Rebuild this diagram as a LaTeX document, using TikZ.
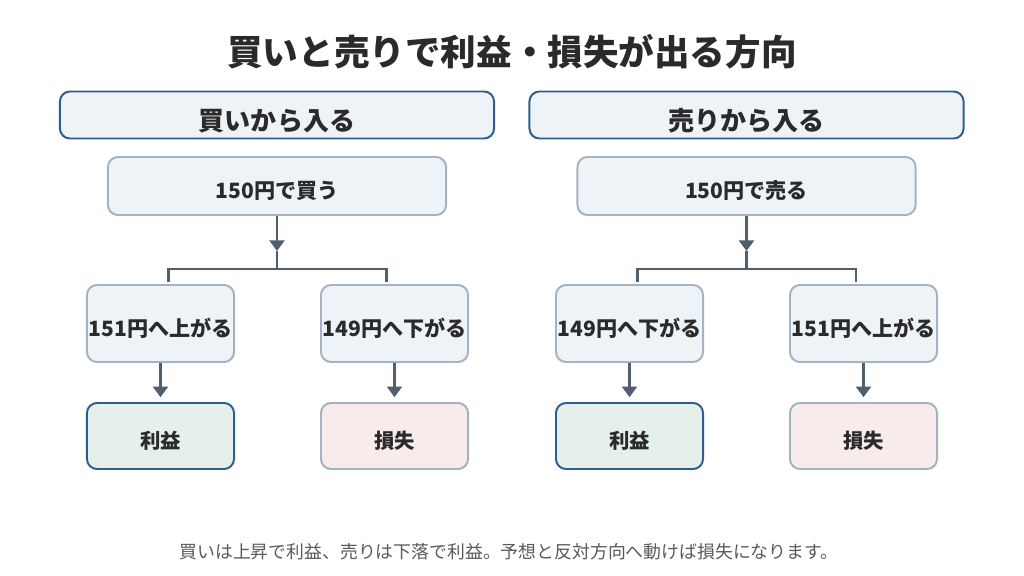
\documentclass[tikz,border=0pt]{standalone}
\usepackage{fontspec}
\setmainfont{Noto Sans CJK JP}
\usepackage{xcolor}
\usetikzlibrary{arrows.meta}

\definecolor{hdrfill}{HTML}{EEF3F8}
\definecolor{hdrline}{HTML}{2E5E8E}
\definecolor{boxline}{HTML}{A3B3C3}
\definecolor{arrcol}{HTML}{4F5F70}
\definecolor{gainfill}{HTML}{E6F0EA}
\definecolor{lossfill}{HTML}{F8EBEB}
\definecolor{txtcol}{HTML}{2A2A2A}

\begin{document}
\begin{tikzpicture}[x=0.025cm, y=-0.025cm,
    hdrbox/.style={draw=hdrline, fill=hdrfill, line width=1.4pt, rounded corners=0.25cm,
      minimum width=10.85cm, minimum height=1.175cm, inner sep=0pt, text=txtcol,
      text height=22.5pt, text depth=0pt,
      font=\fontsize{18.5}{20}\selectfont\bfseries},
    startbox/.style={draw=boxline, fill=hdrfill, line width=1.4pt, rounded corners=0.25cm,
      minimum width=8.45cm, minimum height=1.45cm, inner sep=0pt, text=txtcol,
      text height=18.3pt, text depth=0pt,
      font=\fontsize{15}{16}\selectfont\bfseries},
    movebox/.style={draw=boxline, fill=hdrfill, line width=1.4pt, rounded corners=0.25cm,
      minimum width=3.675cm, minimum height=1.925cm, inner sep=0pt, text=txtcol,
      text height=18.3pt, text depth=0pt,
      font=\fontsize{15}{16}\selectfont\bfseries},
    gainbox/.style={draw=hdrline, fill=gainfill, line width=1.4pt, rounded corners=0.25cm,
      minimum width=3.675cm, minimum height=1.65cm, inner sep=0pt, text=txtcol,
      text height=18pt, text depth=0pt,
      font=\fontsize{14.5}{16}\selectfont\bfseries},
    lossbox/.style={draw=boxline, fill=lossfill, line width=1.4pt, rounded corners=0.25cm,
      minimum width=3.675cm, minimum height=1.65cm, inner sep=0pt, text=txtcol,
      text height=18pt, text depth=0pt,
      font=\fontsize{14.5}{16}\selectfont\bfseries},
    arr/.style={draw=arrcol, line width=2pt, -{Triangle[width=10.5pt,length=7.5pt]}},
    wire/.style={draw=arrcol, line width=2pt}]
      \useasboundingbox (0,0) rectangle (1024,576);
      \node [text=txtcol, font=\fontsize{25.3}{28}\selectfont\bfseries] (title) at (512,52) {買いと売りで利益・損失が出る方向};
      % left side: buy first
      \node [hdrbox] (hdrL) at (277,115) {買いから入る};
      \node [startbox] (topL) at (277,186) {150円で買う};
      \node [movebox] (upL) at (160.5,323.5) {151円へ上がる};
      \node [movebox] (downL) at (394.5,323.5) {149円へ下がる};
      \node [gainbox] (gainL) at (160.5,436) {利益};
      \node [lossbox] (lossL) at (394.5,436) {損失};
      \coordinate (jL) at (277,251);
      \coordinate (bL) at (277,269);
      \draw [arr] (topL) -- (jL);
      \draw [wire] (jL) -- (bL) -| ([xshift=0.19cm,yshift=0.05cm]upL.north);
      \draw [wire] (bL) -| ([xshift=-0.19cm,yshift=0.05cm]downL.north);
      \draw [arr, shorten >=0.12cm] (upL) -- (gainL);
      \draw [arr, shorten >=0.12cm] (downL) -- (lossL);
      % right side: sell first
      \node [hdrbox] (hdrR) at (746.5,115) {売りから入る};
      \node [startbox] (topR) at (746.5,186) {150円で売る};
      \node [movebox] (downR) at (629.5,323.5) {149円へ下がる};
      \node [movebox] (upR) at (863.5,323.5) {151円へ上がる};
      \node [gainbox] (gainR) at (629.5,436) {利益};
      \node [lossbox] (lossR) at (863.5,436) {損失};
      \coordinate (jR) at (746.5,251);
      \coordinate (bR) at (746.5,269);
      \draw [arr] (topR) -- (jR);
      \draw [wire] (jR) -- (bR) -| ([xshift=0.19cm,yshift=0.05cm]downR.north);
      \draw [wire] (bR) -| ([xshift=-0.19cm,yshift=0.05cm]upR.north);
      \draw [arr, shorten >=0.12cm] (downR) -- (gainR);
      \draw [arr, shorten >=0.12cm] (upR) -- (lossR);
      \node [text=black!65, font=\fontsize{12.7}{14}\selectfont] (note) at (509,552) {買いは上昇で利益、売りは下落で利益。予想と反対方向へ動けば損失になります。};
    \end{tikzpicture}
\end{document}
